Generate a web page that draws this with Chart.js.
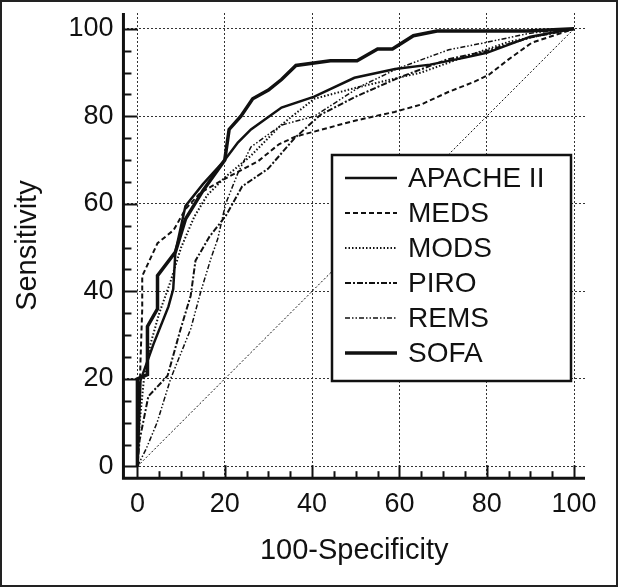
<!DOCTYPE html>
<html>
<head>
<meta charset="utf-8">
<script src="https://cdn.jsdelivr.net/npm/chart.js@4.4.1/dist/chart.umd.min.js"></script>
<style>
  html, body { margin: 0; padding: 0; background: #fff; }
  canvas { display: block; }
</style>
</head>
<body>
<canvas id="roc" width="618" height="587"></canvas>
<script>
// ROC curves, values (100-Specificity vs Sensitivity)
const seriesNames = ["APACHE II", "MEDS", "MODS", "PIRO", "REMS", "SOFA"];

const apacheX = [0, 0.3, 0.7, 3.7, 7.1, 8.2, 8.7, 11, 15, 20, 23, 26, 33, 40.5, 49.7, 59, 67, 75, 80, 90, 100];
const apacheY = [0, 8, 19.6, 28, 36.5, 40.5, 49, 59.5, 64.5, 70, 74, 77, 82, 84.5, 88.8, 90.8, 91.8, 93.4, 94.5, 98.2, 100];

const medsX = [0, 0.4, 0.7, 1.1, 1.1, 4.6, 8.3, 11, 14.5, 19.8, 27.6, 32.4, 36.3, 40.5, 49, 54.3, 58.9, 65, 71.3, 77.2, 80.5, 85, 90.3, 100];
const medsY = [0, 12, 24, 36, 43.5, 51, 54, 58.8, 62.6, 65.6, 69.7, 73.6, 75.4, 76.5, 78.8, 80, 81, 82.7, 85.6, 87.9, 89.5, 93, 96.8, 100];

const modsX = [0, 0.5, 1.5, 3, 5, 7.5, 10, 13, 16, 20, 26, 32.9, 40.5, 50, 58, 65, 75, 85, 100];
const modsY = [0, 10, 20, 28, 35, 42, 50, 57, 62, 66, 71, 78, 84, 86.5, 88.4, 90, 93.6, 97, 100];

const piroX = [0, 0.5, 2.5, 6.9, 9.9, 12.2, 13.3, 16.5, 20.2, 24, 29.9, 36, 42, 50, 59.8, 71, 79.5, 90, 100];
const piroY = [0, 6, 16, 20.7, 31.4, 39, 47, 52.5, 57.2, 64, 68, 75, 80.4, 84.5, 88.8, 93, 94.8, 98, 100];

const remsX = [0, 2, 4.5, 7.6, 12.2, 14.5, 16.8, 18.4, 20.2, 23, 26, 33, 40.5, 51, 59.8, 71.3, 79.5, 90, 100];
const remsY = [0, 4, 10, 20, 31.4, 39.9, 47.4, 52, 60, 67, 73, 78, 80, 86.8, 91, 95.2, 96.8, 99, 100];

const sofaX = [0, 0, 2.3, 2.3, 4.6, 4.6, 8.7, 11, 15, 20, 21, 23.7, 26.4, 30, 33, 36.3, 44.2, 50.3, 55, 58.4, 63.2, 68.6, 89.2, 100];
const sofaY = [0, 20, 21, 32, 36, 43.6, 49, 56.5, 63, 70, 77, 80, 84, 86, 88.4, 91.6, 92.7, 92.7, 95.4, 95.4, 98.4, 99.5, 99.5, 100];

const diagX = [0, 100];
const diagY = [0, 100];

const tickValues = [0, 20, 40, 60, 80, 100];

const ink = "#111";
const fontFamily = "'Liberation Sans', Arial, sans-serif";

function pts(xs, ys) {
  return xs.map((x, i) => ({ x: x, y: ys[i] }));
}

function line(label, xs, ys, width, dash) {
  return {
    label: label,
    data: pts(xs, ys),
    showLine: true,
    borderColor: ink,
    borderWidth: width,
    borderDash: dash,
    pointRadius: 0,
    fill: false,
    tension: 0,
  };
}

const datasets = [
  line("", diagX, diagY, 1, [2, 2]),
  line(seriesNames[1], medsX, medsY, 2, [5, 3]),
  line(seriesNames[2], modsX, modsY, 2, [1.5, 2]),
  line(seriesNames[3], piroX, piroY, 2, [6, 2, 2, 2]),
  line(seriesNames[4], remsX, remsY, 1.5, [5, 2, 1.5, 2, 1.5, 2]),
  line(seriesNames[0], apacheX, apacheY, 2.5, []),
  line(seriesNames[5], sofaX, sofaY, 3.5, []),
];

// axis lines with inward ticks, frame round the picture, and the legend box
const decor = {
  id: "decor",
  beforeDatasetsDraw(chart) {
    const c = chart.ctx;
    const a = chart.chartArea;
    const xs = chart.scales.x;
    const ys = chart.scales.y;
    c.save();
    c.strokeStyle = ink;
    c.lineWidth = 2;
    for (let v = 0; v <= 100; v += 5) {
      const len = v % 20 === 0 ? 13 : 7;
      const px = Math.round(xs.getPixelForValue(v)) + 0.5;
      c.beginPath();
      c.moveTo(px, a.bottom);
      c.lineTo(px, a.bottom - len);
      c.stroke();
      const py = Math.round(ys.getPixelForValue(v)) + 0.5;
      c.beginPath();
      c.moveTo(a.left, py);
      c.lineTo(a.left + len + 1, py);
      c.stroke();
    }
    c.lineWidth = 3;
    c.beginPath();
    c.moveTo(a.left, a.top);
    c.lineTo(a.left, a.bottom);
    c.lineTo(a.right, a.bottom);
    c.stroke();
    c.restore();
  },
  afterDraw(chart) {
    const c = chart.ctx;
    c.save();
    // legend
    const bx = 332, by = 155, bw = 239, bh = 226;
    c.fillStyle = "#fff";
    c.fillRect(bx, by, bw, bh);
    c.strokeStyle = ink;
    c.lineWidth = 2.5;
    c.strokeRect(bx, by, bw, bh);
    const order = [5, 1, 2, 3, 4, 6];
    c.font = "28px " + fontFamily;
    c.textBaseline = "middle";
    c.fillStyle = ink;
    order.forEach((di, i) => {
      const ds = chart.data.datasets[di];
      const y = 178 + i * 35;
      c.beginPath();
      c.setLineDash(ds.borderDash);
      c.lineWidth = ds.borderWidth;
      c.moveTo(345, y);
      c.lineTo(397, y);
      c.stroke();
      c.setLineDash([]);
      c.fillText(ds.label, 408, y + 1);
    });
    // outer frame
    c.strokeStyle = "#222";
    c.lineWidth = 2;
    c.strokeRect(1, 1, chart.width - 2, chart.height - 2);
    c.restore();
  },
};

function fixTicks(scale) {
  scale.ticks = tickValues.map((v) => ({ value: v }));
}

// labels sit well inside the axis range, so no extra edge padding is needed
function noEdgePadding(scale) {
  scale.paddingTop = 0;
  scale.paddingBottom = 0;
  scale.paddingLeft = 0;
  scale.paddingRight = 0;
}

new Chart(document.getElementById("roc").getContext("2d"), {
  type: "scatter",
  data: { datasets: datasets },
  options: {
    responsive: false,
    animation: false,
    devicePixelRatio: 1,
    layout: { padding: { left: 0, right: 33, top: 13, bottom: 3 } },
    plugins: {
      legend: { display: false },
      tooltip: { enabled: false },
    },
    scales: {
      x: {
        type: "linear",
        min: -3.2,
        max: 102.5,
        afterBuildTicks: fixTicks,
        afterFit: noEdgePadding,
        grid: { color: "#333", lineWidth: 1, drawTicks: false },
        border: { display: false, dash: [2, 2] },
        ticks: { color: ink, padding: 10, maxRotation: 0, font: { family: fontFamily, size: 27 } },
        title: {
          display: true,
          text: "100-Specificity",
          color: ink,
          font: { family: fontFamily, size: 29 },
          padding: { top: 3, bottom: 15.6 },
        },
      },
      y: {
        type: "linear",
        min: -2.7,
        max: 103.6,
        afterBuildTicks: fixTicks,
        afterFit: noEdgePadding,
        grid: { color: "#333", lineWidth: 1, drawTicks: false },
        border: { display: false, dash: [2, 2] },
        ticks: { color: ink, padding: 10, font: { family: fontFamily, size: 27 } },
        title: {
          display: true,
          text: "Sensitivity",
          color: ink,
          font: { family: fontFamily, size: 29 },
          padding: { top: 11, bottom: 12.6 },
        },
      },
    },
  },
  plugins: [decor],
});
</script>
</body>
</html>
